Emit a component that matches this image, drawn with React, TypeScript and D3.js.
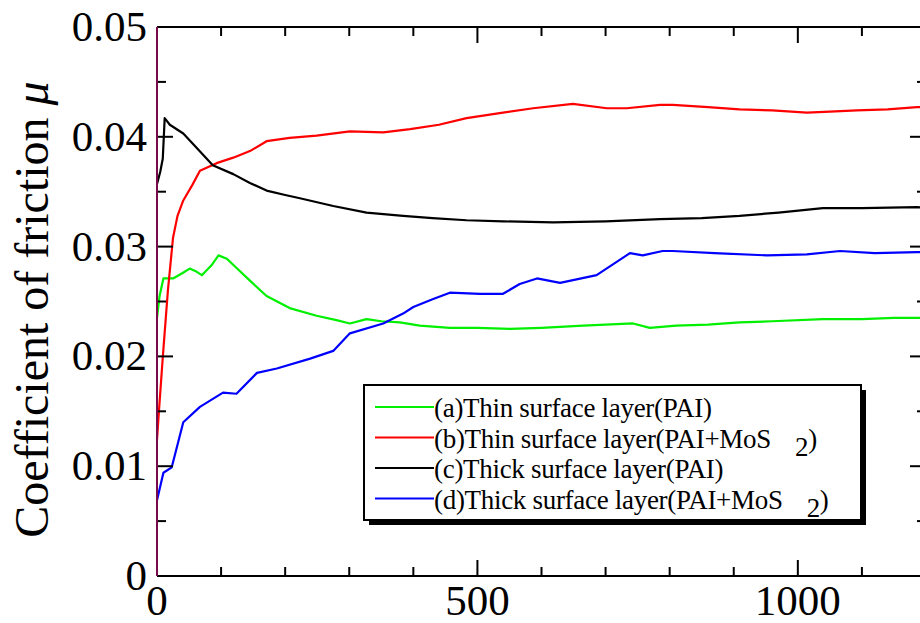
import React from 'react';
import * as d3 from 'd3';

// sliding distance (x) and friction coefficient (y)
const distA = [0, 4, 10, 25, 40, 51, 62, 70, 85, 96, 109, 125, 145, 171, 207, 249, 280, 301, 327, 350, 379, 410, 457, 500, 551, 600, 665, 743, 769, 810, 860, 909, 960, 1039, 1100, 1150, 1200];
const muA = [0.0235, 0.0255, 0.0271, 0.0271, 0.0276, 0.028, 0.0277, 0.0274, 0.0283, 0.0292, 0.0289, 0.028, 0.0269, 0.0255, 0.0244, 0.0237, 0.0233, 0.023, 0.0234, 0.0232, 0.0231, 0.0228, 0.0226, 0.0226, 0.0225, 0.0226, 0.0228, 0.023, 0.0226, 0.0228, 0.0229, 0.0231, 0.0232, 0.0234, 0.0234, 0.0235, 0.0235];

const distB = [0, 3, 9, 17, 25, 32, 41, 55, 67, 93, 119, 145, 171, 207, 249, 301, 353, 395, 440, 483, 540, 587, 649, 702, 733, 785, 805, 860, 909, 960, 1014, 1050, 1092, 1140, 1186, 1200];
const muB = [0.0124, 0.015, 0.0199, 0.026, 0.0308, 0.0328, 0.0342, 0.0356, 0.0369, 0.0376, 0.0381, 0.0387, 0.0396, 0.0399, 0.0401, 0.0405, 0.0404, 0.0407, 0.0411, 0.0417, 0.0422, 0.0426, 0.043, 0.0426, 0.0426, 0.0429, 0.0429, 0.0427, 0.0425, 0.0424, 0.0422, 0.0423, 0.0424, 0.0425, 0.0427, 0.0427];

const distC = [0, 5, 9, 12, 20, 41, 65, 87, 119, 145, 171, 200, 223, 275, 327, 384, 430, 483, 540, 618, 700, 785, 850, 909, 970, 1039, 1100, 1186, 1200];
const muC = [0.0357, 0.0368, 0.038, 0.0417, 0.0411, 0.0403, 0.0388, 0.0374, 0.0366, 0.0358, 0.0351, 0.0347, 0.0344, 0.0337, 0.0331, 0.0328, 0.0326, 0.0324, 0.0323, 0.0322, 0.0323, 0.0325, 0.0326, 0.0328, 0.0331, 0.0335, 0.0335, 0.0336, 0.0335];

const distD = [0, 10, 23, 41, 67, 103, 124, 156, 187, 239, 275, 301, 353, 384, 400, 430, 457, 504, 540, 566, 593, 629, 686, 738, 758, 789, 805, 870, 952, 1014, 1066, 1120, 1186, 1200];
const muD = [0.0069, 0.0094, 0.0099, 0.014, 0.0154, 0.0167, 0.0166, 0.0185, 0.0189, 0.0198, 0.0205, 0.0221, 0.023, 0.0239, 0.0245, 0.0252, 0.0258, 0.0257, 0.0257, 0.0266, 0.0271, 0.0267, 0.0274, 0.0294, 0.0292, 0.0296, 0.0296, 0.0294, 0.0292, 0.0293, 0.0296, 0.0294, 0.0295, 0.0295];

const seriesNames = ['(a)Thin surface layer(PAI)', '(b)Thin surface layer(PAI+MoS', '(c)Thick surface layer(PAI)', '(d)Thick surface layer(PAI+MoS'];
const seriesSub = [false, true, false, true];
const seriesColors = ['#00f000', '#ff0000', '#000000', '#0000ff'];

const yMajor = [0, 0.01, 0.02, 0.03, 0.04, 0.05];
const yMinor = [0.005, 0.015, 0.025, 0.035, 0.045];
const xMajor = [0, 500, 1000];
const xMinor = [100, 200, 300, 400, 600, 700, 800, 900, 1100];

const W = 920;
const H = 623;
const margin = { top: 27, right: -6, bottom: 47, left: 157 };
const font = 'Liberation Serif';

const App = () => {
  const x = d3.scaleLinear().domain([0, 1200]).range([margin.left, W - margin.right]);
  const y = d3.scaleLinear().domain([0, 0.05]).range([H - margin.bottom, margin.top]);
  const x0 = x(0), x1 = x(1200), y0 = y(0), y1 = y(0.05);

  const line = d3.line<[number, number]>()
    .x((d) => x(d[0]))
    .y((d) => y(d[1]));

  const series = [
    d3.zip(distA, muA),
    d3.zip(distB, muB),
    d3.zip(distC, muC),
    d3.zip(distD, muD),
  ] as [number, number][][];

  const fmt = (v: number) => (v === 0 ? '0' : d3.format('.2f')(v));

  // legend box
  const lg = { x: 364, y: 385, w: 497, h: 135 };

  return (
    <div style={{ position: 'absolute', left: 0, top: 0, width: W, height: H, overflow: 'hidden', background: '#fff' }}>
      <svg width={W} height={H} fontFamily={font}>
        {/* curves */}
        {series.map((s, i) => (
          <path key={i} d={line(s) || ''} fill="none" stroke={seriesColors[i]} strokeWidth={2.2} strokeLinejoin="round" />
        ))}

        {/* frame */}
        <line x1={x0} x2={x1} y1={y1} y2={y1} stroke="#000" strokeWidth={2} />
        <line x1={x0} x2={x1} y1={y0} y2={y0} stroke="#000" strokeWidth={2} />
        <line x1={x1} x2={x1} y1={y1} y2={y0} stroke="#000" strokeWidth={2} />

        {/* y ticks, left and right, pointing inward */}
        {yMajor.map((v) => (
          <g key={'ym' + v}>
            <line x1={x0} x2={x0 + 16} y1={y(v)} y2={y(v)} stroke="#000" strokeWidth={2} />
            <line x1={x1} x2={x1 - 16} y1={y(v)} y2={y(v)} stroke="#000" strokeWidth={2} />
            <text x={x0 - 10} y={y(v) + 14} textAnchor="end" fontFamily={font} fontSize={43}>{fmt(v)}</text>
          </g>
        ))}
        {yMinor.map((v) => (
          <g key={'yn' + v}>
            <line x1={x0} x2={x0 + 9} y1={y(v)} y2={y(v)} stroke="#000" strokeWidth={2} />
            <line x1={x1} x2={x1 - 9} y1={y(v)} y2={y(v)} stroke="#000" strokeWidth={2} />
          </g>
        ))}

        {/* x ticks, bottom and top */}
        {xMajor.map((v) => (
          <g key={'xm' + v}>
            <line x1={x(v)} x2={x(v)} y1={y0} y2={y0 - 16} stroke="#000" strokeWidth={2} />
            <line x1={x(v)} x2={x(v)} y1={y1} y2={y1 + 16} stroke="#000" strokeWidth={2} />
            <text x={x(v)} y={y0 + 39} textAnchor="middle" fontFamily={font} fontSize={43}>{v}</text>
          </g>
        ))}
        {xMinor.map((v) => (
          <g key={'xn' + v}>
            <line x1={x(v)} x2={x(v)} y1={y0} y2={y0 - 9} stroke="#000" strokeWidth={2} />
            <line x1={x(v)} x2={x(v)} y1={y1} y2={y1 + 9} stroke="#000" strokeWidth={2} />
          </g>
        ))}

        {/* left axis line */}
        <line x1={x0} x2={x0} y1={y1} y2={y0} stroke="#7a0a4a" strokeWidth={2} />

        {/* y title */}
        <text
          transform={`translate(48, ${(y0 + y1) / 2 + 8}) rotate(-90)`}
          textAnchor="middle"
          fontFamily={font}
          fontSize={48}
        >
          Coefficient of friction <tspan fontStyle="italic">μ</tspan>
        </text>

        {/* legend */}
        <rect x={lg.x + 5} y={lg.y + 5} width={lg.w} height={lg.h} fill="#000" />
        <rect x={lg.x} y={lg.y} width={lg.w} height={lg.h} fill="#fff" stroke="#000" strokeWidth={2} />
        {seriesNames.map((name, i) => {
          const ly = lg.y + 22 + i * 30.5;
          return (
            <g key={name}>
              <line x1={375} x2={434} y1={ly} y2={ly} stroke={seriesColors[i]} strokeWidth={2} />
              <text x={434} y={ly + 10} fontFamily={font} fontSize={27} letterSpacing={-0.3}>
                {name}
                {seriesSub[i] ? (
                  <>
                    <tspan dx={24} dy={8}>2</tspan>
                    <tspan dy={-8}>)</tspan>
                  </>
                ) : null}
              </text>
            </g>
          );
        })}
      </svg>
    </div>
  );
};

export default App;
